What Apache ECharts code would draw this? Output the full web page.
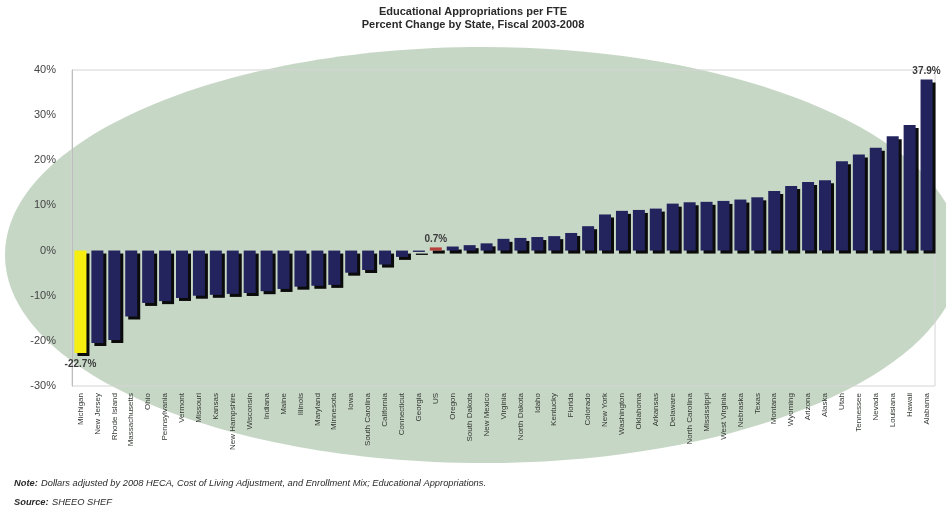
<!DOCTYPE html>
<html>
<head>
<meta charset="utf-8">
<script src="https://cdn.jsdelivr.net/npm/echarts@6/dist/echarts.min.js"></script>
<style>
  html, body { margin: 0; padding: 0; background: #ffffff; }
  #chart { width: 946px; height: 514px; }
</style>
</head>
<body>
<div id="chart"></div>
<script>
// States sorted by percent change in educational appropriations per FTE, 2003-2008
const states = [
  'Michigan', 'New Jersey', 'Rhode Island', 'Massachusetts', 'Ohio', 'Pennsylvania',
  'Vermont', 'Missouri', 'Kansas', 'New Hampshire', 'Wisconsin', 'Indiana', 'Maine',
  'Illinois', 'Maryland', 'Minnesota', 'Iowa', 'South Carolina', 'California',
  'Connecticut', 'Georgia', 'US', 'Oregon', 'South Dakota', 'New Mexico', 'Virginia',
  'North Dakota', 'Idaho', 'Kentucky', 'Florida', 'Colorado', 'New York', 'Washington',
  'Oklahoma', 'Arkansas', 'Delaware', 'North Carolina', 'Mississippi', 'West Virginia',
  'Nebraska', 'Texas', 'Montana', 'Wyoming', 'Arizona', 'Alaska', 'Utah', 'Tennessee',
  'Nevada', 'Louisiana', 'Hawaii', 'Alabama'
];

const pctChange = [
  -22.7, -20.5, -19.8, -14.6, -11.6, -11.2,
  -10.5, -10.0, -9.8, -9.6, -9.4, -9.0, -8.5,
  -8.0, -7.8, -7.6, -4.9, -4.3, -3.1,
  -1.4, -0.3, 0.7, 0.9, 1.2, 1.6, 2.6,
  2.8, 3.0, 3.2, 3.9, 5.4, 8.0, 8.8,
  9.0, 9.3, 10.4, 10.7, 10.8, 11.0,
  11.3, 11.8, 13.2, 14.3, 15.2, 15.6, 19.8, 21.3,
  22.8, 25.3, 27.8, 37.9
];

const yTicks = { min: -30, max: 40, step: 10 };

// Bars that get a distinct colour and a value label
const highlight = {
  'Michigan': { color: '#f5ee10', label: 'bottom' },
  'US': { color: '#b8403a', label: 'top' },
  'Alabama': { color: null, label: 'top' }
};

const barColor = '#23245e';
const font = 'Liberation Sans, Arial, sans-serif';

const seriesData = states.map(function (name, i) {
  const h = highlight[name];
  const item = { value: pctChange[i] };
  if (h) {
    if (h.color) item.itemStyle = { color: h.color };
    item.label = {
      show: true,
      position: h.label,
      distance: h.label === 'bottom' ? 6 : 3,
      formatter: function (p) { return p.value.toFixed(1) + '%'; },
      fontFamily: font,
      fontWeight: 'bold',
      fontSize: 10,
      color: '#3a3a3a'
    };
  }
  return item;
});

const chart = echarts.init(document.getElementById('chart'), null, { renderer: 'canvas' });

const noteStyle = {
  b: { fontFamily: font, fontWeight: 'bold', fontStyle: 'italic', fontSize: 9.3, fill: '#2a2a2a' },
  n: { fontFamily: font, fontStyle: 'italic', fontSize: 9.3, fill: '#2a2a2a' }
};

chart.setOption({
  backgroundColor: '#ffffff',
  animation: false,
  graphic: [
    {
      type: 'ellipse',
      z: -10,
      silent: true,
      shape: { cx: 483, cy: 255, rx: 478, ry: 208 },
      style: { fill: '#c7d7c6' }
    },
    {
      type: 'text',
      left: 'center',
      top: 5,
      style: {
        text: 'Educational Appropriations per FTE\nPercent Change by State, Fiscal 2003-2008',
        textAlign: 'center',
        fontFamily: font,
        fontWeight: 'bold',
        fontSize: 11,
        lineHeight: 13,
        fill: '#2a2a2a'
      }
    },
    {
      type: 'text',
      left: 14,
      top: 477,
      style: {
        text: '{b|Note:} {n|Dollars adjusted by 2008 HECA, Cost of Living Adjustment, and Enrollment Mix; Educational Appropriations.}',
        rich: noteStyle
      }
    },
    {
      type: 'text',
      left: 14,
      top: 496,
      style: {
        text: '{b|Source:} {n|SHEEO SHEF}',
        rich: noteStyle
      }
    }
  ],
  grid: {
    left: 72,
    right: 11,
    top: 70,
    bottom: 128,
    show: true,
    borderColor: '#d4d4d4',
    borderWidth: 1,
    backgroundColor: 'transparent'
  },
  xAxis: {
    type: 'category',
    data: states,
    position: 'bottom',
    axisLine: { show: false, onZero: false },
    axisTick: { show: false },
    axisLabel: {
      interval: 0,
      rotate: 90,
      margin: 7,
      fontFamily: font,
      fontSize: 8,
      color: '#333833'
    }
  },
  yAxis: {
    type: 'value',
    min: yTicks.min,
    max: yTicks.max,
    interval: yTicks.step,
    axisLine: { show: true, lineStyle: { color: '#bdbdbd', width: 1 } },
    axisTick: { show: false },
    splitLine: { show: false },
    axisLabel: {
      formatter: '{value}%',
      margin: 16,
      fontFamily: font,
      fontSize: 11,
      color: '#444444'
    }
  },
  series: [
    {
      type: 'bar',
      data: seriesData,
      barWidth: 12,
      z: 2,
      itemStyle: {
        color: barColor,
        shadowColor: 'rgba(0,0,0,0.95)',
        shadowOffsetX: 3,
        shadowOffsetY: 3,
        shadowBlur: 0
      }
    }
  ]
});
</script>
</body>
</html>
